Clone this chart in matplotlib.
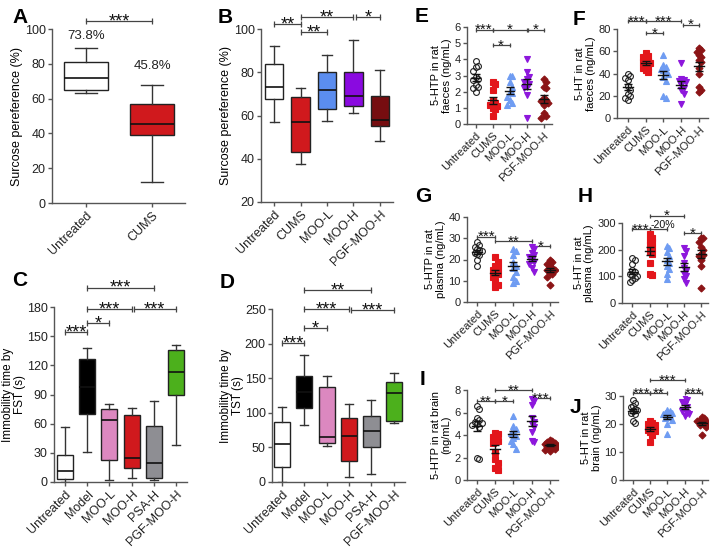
import numpy as np
import matplotlib
matplotlib.use("Agg")
import matplotlib.pyplot as plt

plt.rcParams['font.family'] = ['Liberation Sans', 'DejaVu Sans']

# ---------------- data ----------------
# Panel A (sucrose preference, box stats)
a_groups = ["Untreated", "CUMS"]
a_whislo = [63, 12]
a_q1 = [65, 39]
a_med = [72, 45.5]
a_q3 = [81, 57]
a_whishi = [89, 68]
a_colors = ["white", "#d0191d"]
a_pct = ["73.8%", "45.8%"]
a_pct_y = [96, 78.5]

# Panel B
b_groups = ["Untreated", "CUMS", "MOO-L", "MOO-H", "PGF-MOO-H"]
b_whislo = [57, 37.5, 57.5, 61, 48]
b_q1 = [67.5, 43, 63, 64.5, 55]
b_med = [73, 57, 72, 69, 58]
b_q3 = [84, 68.5, 80, 80, 69]
b_whishi = [92, 72.5, 88, 95, 81]
b_colors = ["white", "#d0191d", "#5b8def", "#8a0ae0", "#760d10"]

# Panel C (FST)
cd_groups = ["Untreated", "Model", "MOO-L", "MOO-H", "PSA-H", "PGF-MOO-H"]
cd_colors = ["white", "black", "#dc88c0", "#d0191d", "#8e8e93", "#4cb01c"]
c_whislo = [0, 31, 2, 4, 2, 38]
c_q1 = [3, 70, 23, 14, 4, 89]
c_med = [11, 98, 64, 25, 20, 113]
c_q3 = [28, 127, 75, 69, 58, 136]
c_whishi = [57, 138, 80, 76, 83, 141]

# Panel D (TST)
d_whislo = [0, 83, 52, 7, 12, 85]
d_q1 = [21, 107, 57, 31, 51, 88]
d_med = [55, 130, 65, 67, 73, 128]
d_q3 = [86, 153, 137, 93, 96, 145]
d_whishi = [108, 184, 153, 112, 119, 158]

# Scatter panels E-J
s_groups = ["Untreated", "CUMS", "MOO-L", "MOO-H", "PGF-MOO-H"]
e_untreated = [3.9, 3.6, 3.5, 3.3, 2.9, 2.8, 2.7, 2.4, 2.3, 2.2, 2.0]
e_cums = [2.6, 2.5, 2.1, 1.4, 1.3, 1.2, 1.1, 1.0, 0.9, 0.5]
e_mool = [3.0, 3.0, 2.6, 2.3, 2.0, 1.9, 1.7, 1.5, 1.3, 1.2]
e_mooh = [4.0, 3.2, 2.9, 2.8, 2.6, 2.5, 2.3, 2.2, 1.8, 0.4]
e_pgf = [2.8, 2.6, 2.3, 2.2, 1.6, 1.5, 1.4, 1.3, 1.2, 0.7, 0.5, 0.4]

f_untreated = [40, 38, 36, 34, 29, 25, 22, 20, 18, 16]
f_cums = [58, 56, 55, 53, 51, 50, 49, 48, 46, 45, 43, 41]
f_mool = [57, 48, 46, 44, 43, 41, 40, 37, 33, 20, 18]
f_mooh = [49, 35, 34, 33, 32, 30, 27, 25, 22, 13]
f_pgf = [63, 61, 59, 57, 55, 52, 50, 45, 40, 28, 25, 23]

g_untreated = [28, 27, 26, 25, 24.5, 24, 23, 22.5, 22, 20, 17]
g_cums = [21, 19, 17, 16, 15, 14, 13, 12, 10, 8, 7]
g_mool = [25, 24, 22, 19, 17, 16, 14, 12, 10, 9]
g_mooh = [26, 25, 23, 22, 21, 20, 19, 18, 16, 14]
g_pgf = [20, 19, 18, 17, 16, 15, 15, 14, 13, 12, 8]

h_untreated = [170, 160, 145, 125, 115, 110, 105, 100, 92, 85, 78]
h_cums = [258, 245, 235, 228, 218, 205, 195, 185, 150, 110, 105]
h_mool = [215, 205, 190, 175, 162, 150, 140, 128, 110, 90]
h_mooh = [205, 195, 175, 150, 130, 120, 110, 100, 90, 75]
h_pgf = [245, 245, 230, 210, 200, 185, 180, 175, 160, 140, 55]

i_untreated = [6.6, 6.3, 5.5, 5.3, 5.2, 5.1, 5.0, 4.9, 4.7, 2.0, 1.9]
i_cums = [4.15, 4.06, 3.85, 3.7, 3.5, 3.3, 2.46, 1.85, 1.54, 1.08, 0.92]
i_mool = [5.7, 4.8, 4.5, 4.3, 4.15, 3.9, 3.75, 3.5, 3.2, 2.8]
i_mooh = [7.2, 7.0, 6.7, 5.5, 5.2, 5.0, 4.7, 4.3, 3.5, 3.4]
i_pgf = [3.6, 3.5, 3.4, 3.3, 3.2, 3.1, 3.0, 3.0, 2.9, 2.8, 2.7, 2.6]

j_untreated = [28.5, 27.5, 26.5, 26, 25.5, 25, 24.5, 24, 23.5, 21, 20.5]
j_cums = [21, 20.5, 20, 19.5, 19, 18.5, 18, 17.5, 17, 16, 13.5]
j_mool = [25, 24.5, 24, 24, 23.5, 23, 22.5, 22, 21.5, 20, 16.5]
j_mooh = [29.5, 28.5, 28, 27, 26, 25, 24.5, 24, 23.5, 23]
j_pgf = [22.5, 22, 21.5, 21, 21, 20.5, 20, 20, 19.5, 19, 16]

# significance annotations: (x1, x2, y, label)
a_sig = [(0, 1, 104.5, "***")]
b_sig = [(0, 1, 102.4, "**"), (1, 2, 98.7, "**"), (1, 3, 105.6, "**"), (3.1, 4, 105.6, "*")]
c_sig = [(0, 1, 154.5, "***"), (1, 2, 163.7, "*"), (1, 3, 178, "***"), (3.1, 5, 178, "***"), (1, 4, 200, "***")]
d_sig = [(0, 1, 200.8, "***"), (1, 2, 223, "*"), (1, 3, 250, "***"), (3.1, 5, 248, "***"), (1, 4, 278, "**")]
e_sig = [(0, 1, 5.84, "***"), (1, 3, 5.84, "*"), (3.1, 4, 5.84, "*"), (1, 2, 4.9, "*")]
f_sig = [(0, 1, 87, "***"), (1, 3, 87, "***"), (3.1, 4, 84, "*"), (1, 2, 76, "*")]
g_sig = [(0, 1, 30.8, "***"), (1, 3, 28.5, "**"), (3, 4, 26.4, "*")]
h_sig = [(0, 1, 276, "***"), (1, 2, 276, "-20%"), (1, 3, 328, "*"), (3, 4, 262, "*")]
i_sig = [(0, 1, 7.0, "**"), (1, 2, 7.0, "*"), (1, 3, 8.0, "**"), (3, 4, 7.3, "***")]
j_sig = [(0, 1, 31, "***"), (1, 2, 31, "**"), (1, 3, 35.7, "***"), (3, 4, 31, "***")]

# ---------------- style ----------------
W, H = 712, 551
fig = plt.figure(figsize=(W / 100, H / 100), dpi=100)
fig.patch.set_facecolor("white")
SPINE = "#555555"


def add_ax(l, t, r, b):
    return fig.add_axes([l / W, 1 - b / H, (r - l) / W, (b - t) / H])


def style(ax, tick_fs, labels, rot=45):
    for s in ["top", "right"]:
        ax.spines[s].set_visible(False)
    for s in ["left", "bottom"]:
        ax.spines[s].set_color(SPINE)
        ax.spines[s].set_linewidth(1.0)
    ax.tick_params(colors=SPINE, labelcolor="#222222", labelsize=tick_fs,
                   length=3, width=1.0, pad=1.5)
    ax.set_xticks(range(len(labels)))
    ax.set_xticklabels(labels, rotation=rot, ha="right", rotation_mode="anchor")
    ax.set_facecolor("none")


def sig(ax, items, fs=10, tick=4):
    for x1, x2, y, lab in items:
        ax.plot([x1, x2], [y, y], color="#444444", lw=0.9, marker="|",
                ms=tick, mew=0.9, clip_on=False)
        if lab.startswith("*"):
            ax.annotate(lab, xy=((x1 + x2) / 2, y), xytext=(0, -0.3 * fs),
                        textcoords="offset points", ha="center", va="baseline",
                        fontsize=fs, color="#111111", annotation_clip=False)
        else:
            ax.annotate(lab, xy=(x1 + 0.05, y), xytext=(0, 1.2),
                        textcoords="offset points", ha="left", va="baseline",
                        fontsize=fs * 0.7, color="#111111", annotation_clip=False)


def boxes(ax, lo, q1, med, q3, hi, colors, width=0.7):
    stats = []
    for k in range(len(lo)):
        stats.append(dict(whislo=lo[k], q1=q1[k], med=med[k], q3=q3[k], whishi=hi[k]))
    bp = ax.bxp(stats, positions=range(len(lo)), widths=width, patch_artist=True,
                showfliers=False,
                boxprops=dict(edgecolor="#222222", linewidth=1.0),
                whiskerprops=dict(color="#333333", linewidth=1.0),
                capprops=dict(color="#333333", linewidth=1.0),
                medianprops=dict(color="#111111", linewidth=1.2))
    for p, c in zip(bp["boxes"], colors):
        p.set_facecolor(c)
    for k in range(len(lo)):
        bp["caps"][2 * k].set_xdata([k - width * 0.25, k + width * 0.25])
        bp["caps"][2 * k + 1].set_xdata([k - width * 0.25, k + width * 0.25])


def swarm_offsets(vals, dy, dx):
    vals = np.asarray(vals, float)
    order = np.argsort(-vals)
    placed = []
    offs = np.zeros(len(vals))
    cands = [0]
    for k in range(1, 8):
        cands += [k * dx, -k * dx]
    for i in order:
        for c in cands:
            ok = True
            for (py, px) in placed:
                if abs(py - vals[i]) < dy and abs(px - c) < dx * 0.95:
                    ok = False
                    break
            if ok:
                offs[i] = c
                placed.append((vals[i], c))
                break
    return offs


MK = [("o", "none", "#222222"), ("s", "#e3161b", "#e3161b"),
      ("^", "#6f9cf2", "#6f9cf2"), ("v", "#8d17dc", "#8d17dc"),
      ("D", "#8b1416", "#8b1416")]


def scatter_panel(ax, groups_data, ymax, msize=4.2):
    dy = ymax * 0.055
    for k, vals in enumerate(groups_data):
        m, fc, ec = MK[k]
        offs = swarm_offsets(vals, dy, 0.13)
        ms = msize * (0.85 if m == "D" else 1.0)
        ax.plot(k + offs, vals, linestyle="none", marker=m, ms=ms,
                mfc=fc, mec=ec, mew=0.8, zorder=3)
        v = np.asarray(vals, float)
        mean = v.mean()
        sem = v.std(ddof=1) / np.sqrt(len(v))
        ax.plot([k - 0.28, k + 0.28], [mean, mean], color="#111111", lw=1.0, zorder=4)
        ax.errorbar([k], [mean], yerr=[sem], color="#111111", lw=1.0,
                    capsize=3, capthick=1.0, zorder=4)


# ---------------- Panel A ----------------
axA = add_ax(52, 29, 185, 203)
boxes(axA, a_whislo, a_q1, a_med, a_q3, a_whishi, a_colors, width=0.67)
axA.set_xlim(-0.52, 1.5)
axA.set_ylim(0, 100)
axA.set_yticks([0, 20, 40, 60, 80, 100])
style(axA, 9, a_groups)
axA.set_ylabel("Surcose pereference (%)", fontsize=9, labelpad=1.5)
for k in range(2):
    axA.text(k, a_pct_y[k], a_pct[k], ha="center", va="center", fontsize=9.5, color="#222222")
sig(axA, a_sig, fs=13)

# ---------------- Panel B ----------------
axB = add_ax(261, 29, 393, 202)
boxes(axB, b_whislo, b_q1, b_med, b_q3, b_whishi, b_colors, width=0.7)
axB.set_xlim(-0.5, 4.5)
axB.set_ylim(20, 100)
axB.set_yticks([20, 40, 60, 80, 100])
style(axB, 9, b_groups)
axB.set_ylabel("Surcose pereference (%)", fontsize=9, labelpad=1.5)
sig(axB, b_sig, fs=13)

# ---------------- Panel C ----------------
axC = add_ax(54, 307, 187, 482)
boxes(axC, c_whislo, c_q1, c_med, c_q3, c_whishi, cd_colors, width=0.72)
axC.set_xlim(-0.5, 5.5)
axC.set_ylim(0, 180)
axC.set_yticks([0, 30, 60, 90, 120, 150, 180])
style(axC, 9, cd_groups)
axC.set_ylabel("Immobility time by\nFST (s)", fontsize=8.5, labelpad=0.5, linespacing=1.05)
sig(axC, c_sig, fs=13)

# ---------------- Panel D ----------------
axD = add_ax(272, 309, 405, 482)
boxes(axD, d_whislo, d_q1, d_med, d_q3, d_whishi, cd_colors, width=0.72)
axD.set_xlim(-0.45, 5.5)
axD.set_ylim(0, 250)
axD.set_yticks([0, 50, 100, 150, 200, 250])
style(axD, 9, cd_groups)
axD.set_ylabel("Immobility time by\nTST (s)", fontsize=8.5, labelpad=0.5, linespacing=1.05)
sig(axD, d_sig, fs=13)

# ---------------- Scatter panels ----------------
panels = [
    ((467, 27, 552, 124), (-0.5, 4.5), 6, [0, 1, 2, 3, 4, 5, 6],
     [e_untreated, e_cums, e_mool, e_mooh, e_pgf], "5-HTP in rat\nfaeces (ng/mL)", e_sig),
    ((617, 29, 708, 118), (-0.6, 4.5), 80, [0, 20, 40, 60, 80],
     [f_untreated, f_cums, f_mool, f_mooh, f_pgf], "5-HT in rat\nfaeces (ng/mL)", f_sig),
    ((467, 217, 558, 302), (-0.55, 4.45), 40, [0, 10, 20, 30, 40],
     [g_untreated, g_cums, g_mool, g_mooh, g_pgf], "5-HTP in rat\nplasma (ng/mL)", g_sig),
    ((622, 223, 708, 303), (-0.6, 4.4), 300, [0, 100, 200, 300],
     [h_untreated, h_cums, h_mool, h_mooh, h_pgf], "5-HT in rat\nplasma (ng/mL)", h_sig),
    ((467, 390, 558, 480), (-0.55, 4.45), 8, [0, 2, 4, 6, 8],
     [i_untreated, i_cums, i_mool, i_mooh, i_pgf], "5-HTP in rat brain\n(ng/mL)", i_sig),
    ((623, 396, 708, 480), (-0.58, 4.35), 30, [0, 10, 20, 30],
     [j_untreated, j_cums, j_mool, j_mooh, j_pgf], "5-HT in rat\nbrain (ng/mL)", j_sig),
]
for box, xl, ymax, yt, data, ylab, sg in panels:
    ax = add_ax(*box)
    scatter_panel(ax, data, ymax)
    ax.set_xlim(*xl)
    ax.set_ylim(0, ymax)
    ax.set_yticks(yt)
    style(ax, 8, s_groups)
    ax.set_ylabel(ylab, fontsize=8, labelpad=2, linespacing=1.05)
    sig(ax, sg, fs=11, tick=3.5)

# ---------------- panel letters ----------------
letters = [("A", 12, 8), ("B", 218, 8), ("C", 12, 271), ("D", 220, 273),
           ("E", 415, 7), ("F", 573, 10), ("G", 415, 187), ("H", 578, 187),
           ("I", 420, 370), ("J", 570, 398)]
for t, x, y in letters:
    fig.text(x / W, 1 - y / H, t, fontsize=15, fontweight="bold", ha="left", va="top")

fig.savefig("out.png", dpi=100, facecolor="white")
